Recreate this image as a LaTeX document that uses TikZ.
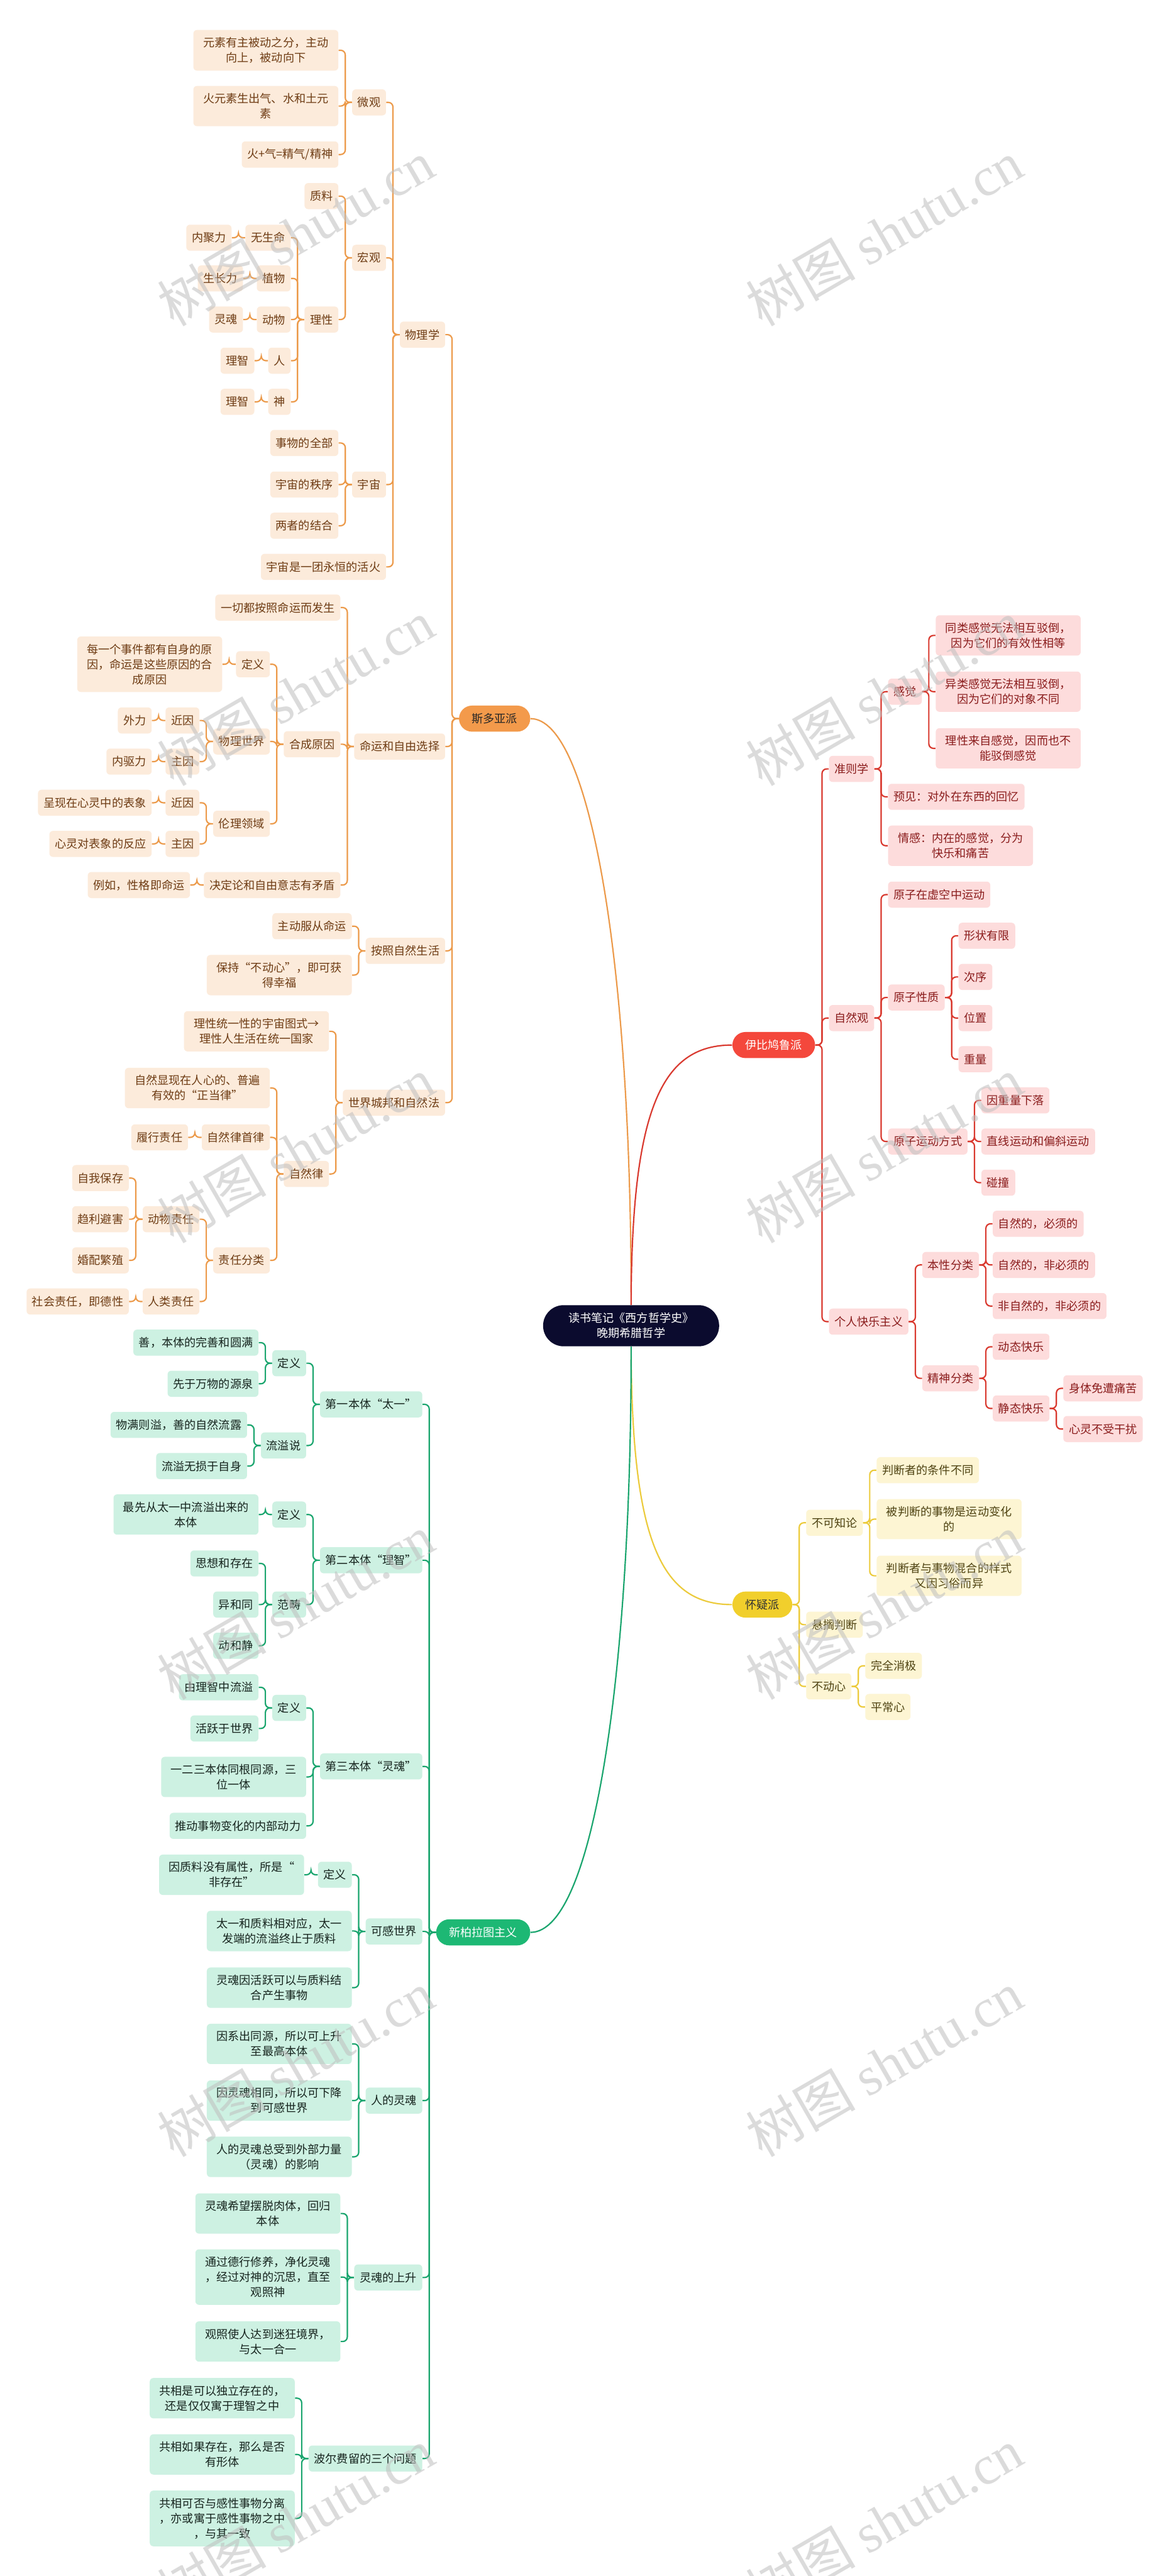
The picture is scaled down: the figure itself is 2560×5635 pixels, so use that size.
\documentclass[tikz,border=0pt]{standalone}
\usepackage{fontspec}
\newfontfamily\cjk{Noto Sans CJK SC}
\newfontfamily\wmserif{Liberation Serif}
\usetikzlibrary{calc}
\definecolor{soF}{HTML}{F39A4B}
\definecolor{soC}{HTML}{FCEBDB}
\definecolor{soT}{HTML}{6E3C14}
\definecolor{soL}{HTML}{EC9A4A}
\definecolor{epF}{HTML}{F4483C}
\definecolor{epC}{HTML}{FDDCDC}
\definecolor{epT}{HTML}{8A1C1C}
\definecolor{epL}{HTML}{D9392F}
\definecolor{skF}{HTML}{F1CF2C}
\definecolor{skC}{HTML}{FDF5D3}
\definecolor{skT}{HTML}{4E4312}
\definecolor{skL}{HTML}{ECCB3C}
\definecolor{npF}{HTML}{1DB874}
\definecolor{npC}{HTML}{CDF1E2}
\definecolor{npT}{HTML}{16241E}
\definecolor{npL}{HTML}{1AA56E}
\definecolor{titleF}{HTML}{0B0B2E}
% left child: [extra]{style}{name}{parent}{y}{text}
\newcommand\LN[6][]{\node[#2,#1,anchor=east] (#3) at ($(#4.west |- 0,#5)+(-29,0)$) {#6};
  \draw[#2line] (#4.west) -- ++(-14.5,0) |- (#3.east);}
\newcommand\RN[6][]{\node[#2,#1,anchor=west] (#3) at ($(#4.east |- 0,#5)+(29,0)$) {#6};
  \draw[#2line] (#4.east) -- ++(14.5,0) |- (#3.west);}
\begin{document}
\begin{tikzpicture}[x=0.01cm,y=-0.01cm,
  base/.style={font=\cjk\fontsize{7.1pt}{9.4pt}\selectfont, inner xsep=0.12cm, inner ysep=0.16cm, minimum height=0.57cm, rounded corners=0.08cm},
  wrap/.style={text width=2.93cm, align=center},
  so/.style={base, fill=soC, text=soT},
  ep/.style={base, fill=epC, text=epT},
  sk/.style={base, fill=skC, text=skT},
  np/.style={base, fill=npC, text=npT},
  soline/.style={draw=soL, line width=0.85pt, rounded corners=0.1cm},
  epline/.style={draw=epL, line width=0.85pt, rounded corners=0.1cm},
  skline/.style={draw=skL, line width=0.85pt, rounded corners=0.1cm},
  npline/.style={draw=npL, line width=0.85pt, rounded corners=0.1cm},
  branch/.style={font=\cjk\fontsize{7.1pt}{9.4pt}\selectfont, inner xsep=0.28cm, inner ysep=0.16cm, minimum height=0.57cm, rounded corners=0.285cm},
  wm/.style={text=gray!50, opacity=0.55, font=\cjk\fontsize{34pt}{34pt}\selectfont, rotate=30}
]
\useasboundingbox (0,0) rectangle (2560,5635);
\fill[white] (0,0) rectangle (2560,5635);

% root and branches
\node[font=\cjk\fontsize{7.1pt}{9.4pt}\selectfont, fill=titleF, text=white, align=center, rounded corners=0.45cm, minimum width=3.85cm, minimum height=0.9cm, inner ysep=0.16cm] (root) at (1381,2900) {读书笔记《西方哲学史》\\晚期希腊哲学};
\node[branch, fill=soF, text=black!85, anchor=east] (so) at (1161,1572) {斯多亚派};
\node[branch, fill=epF, text=white, anchor=west] (ep) at (1602,2286) {伊比鸠鲁派};
\node[branch, fill=skF, text=black!80, anchor=west] (sk) at (1602,3510) {怀疑派};
\node[branch, fill=npF, text=white, anchor=east] (np) at (1161,4227) {新柏拉图主义};
\draw[soline] (root.north) .. controls (1382,2100) and (1290,1572) .. (so.east);
\draw[epline] (root.north) .. controls (1382,2420) and (1450,2286) .. (ep.west);
\draw[skline] (root.south) .. controls (1382,3380) and (1450,3510) .. (sk.west);
\draw[npline] (root.south) .. controls (1382,3650) and (1300,4227) .. (np.east);

% ===== 斯多亚派 =====
\LN{so}{wl}{so}{732}{物理学}
\LN{so}{mf}{so}{1633}{命运和自由选择}
\LN{so}{az}{so}{2080}{按照自然生活}
\LN{so}{sj}{so}{2412}{世界城邦和自然法}
% 物理学
\LN{so}{wei}{wl}{224}{微观}
\LN{so}{hg}{wl}{564}{宏观}
\LN{so}{yz}{wl}{1060}{宇宙}
\LN{so}{hh}{wl}{1240}{宇宙是一团永恒的活火}
\LN[wrap]{so}{w1}{wei}{110}{元素有主被动之分，主动\\向上，被动向下}
\LN[wrap]{so}{w2}{wei}{232}{火元素生出气、水和土元\\素}
\LN{so}{w3}{wei}{338}{火+气=精气/精神}
\LN{so}{zl}{hg}{429}{质料}
\LN{so}{lx}{hg}{699}{理性}
\LN{so}{ws}{lx}{520}{无生命}
\LN{so}{zw}{lx}{609}{植物}
\LN{so}{dw}{lx}{699}{动物}
\LN{so}{ren}{lx}{789}{人}
\LN{so}{shen}{lx}{879}{神}
\LN{so}{njl}{ws}{520}{内聚力}
\LN{so}{szl}{zw}{609}{生长力}
\LN{so}{lh}{dw}{699}{灵魂}
\LN{so}{lza}{ren}{789}{理智}
\LN{so}{lzb}{shen}{879}{理智}
\LN{so}{yza}{yz}{969}{事物的全部}
\LN{so}{yzb}{yz}{1060}{宇宙的秩序}
\LN{so}{yzc}{yz}{1150}{两者的结合}
% 命运和自由选择
\LN{so}{ma}{mf}{1329}{一切都按照命运而发生}
\LN{so}{hc}{mf}{1628}{合成原因}
\LN{so}{jd}{mf}{1936}{决定论和自由意志有矛盾}
\LN{so}{dya}{hc}{1453}{定义}
\LN{so}{wj}{hc}{1622}{物理世界}
\LN{so}{ll}{hc}{1802}{伦理领域}
\LN[wrap]{so}{mg}{dya}{1453}{每一个事件都有自身的原\\因，命运是这些原因的合\\成原因}
\LN{so}{jya}{wj}{1576}{近因}
\LN{so}{zya}{wj}{1666}{主因}
\LN{so}{wla}{jya}{1576}{外力}
\LN{so}{nq}{zya}{1666}{内驱力}
\LN{so}{jyb}{ll}{1756}{近因}
\LN{so}{zyb}{ll}{1846}{主因}
\LN{so}{bxx}{jyb}{1756}{呈现在心灵中的表象}
\LN{so}{fy}{zyb}{1846}{心灵对表象的反应}
\LN{so}{lr}{jd}{1936}{例如，性格即命运}
% 按照自然生活
\LN{so}{zd}{az}{2026}{主动服从命运}
\LN[wrap]{so}{bc}{az}{2133}{保持“不动心”，即可获\\得幸福}
% 世界城邦和自然法
\LN[wrap]{so}{lt}{sj}{2256}{理性统一性的宇宙图式→\\理性人生活在统一国家}
\LN{so}{zrl}{sj}{2568}{自然律}
\LN[wrap]{so}{zx}{zrl}{2380}{自然显现在人心的、普遍\\有效的“正当律”}
\LN{so}{sl}{zrl}{2488}{自然律首律}
\LN{so}{zr}{zrl}{2757}{责任分类}
\LN{so}{lxzr}{sl}{2488}{履行责任}
\LN{so}{dwzr}{zr}{2667}{动物责任}
\LN{so}{rlzr}{zr}{2847}{人类责任}
\LN{so}{zwbc}{dwzr}{2577}{自我保存}
\LN{so}{ql}{dwzr}{2667}{趋利避害}
\LN{so}{hp}{dwzr}{2757}{婚配繁殖}
\LN{so}{shzr}{rlzr}{2847}{社会责任，即德性}

% ===== 伊比鸠鲁派 =====
\RN{ep}{zzx}{ep}{1682}{准则学}
\RN{ep}{zrg}{ep}{2227}{自然观}
\RN{ep}{grkl}{ep}{2891}{个人快乐主义}
\RN{ep}{gj}{zzx}{1513}{感觉}
\RN{ep}{yj}{zzx}{1743}{预见：对外在东西的回忆}
\RN[wrap]{ep}{qg}{zzx}{1850}{情感：内在的感觉，分为\\快乐和痛苦}
\RN[wrap]{ep}{ga}{gj}{1390}{同类感觉无法相互驳倒，\\因为它们的有效性相等}
\RN[wrap]{ep}{gb}{gj}{1513}{异类感觉无法相互驳倒，\\因为它们的对象不同}
\RN[wrap]{ep}{gc}{gj}{1637}{理性来自感觉，因而也不\\能驳倒感觉}
\RN{ep}{yzo}{zrg}{1957}{原子在虚空中运动}
\RN{ep}{yzxz}{zrg}{2182}{原子性质}
\RN{ep}{yzyd}{zrg}{2497}{原子运动方式}
\RN{ep}{xza}{yzxz}{2047}{形状有限}
\RN{ep}{xzb}{yzxz}{2137}{次序}
\RN{ep}{xzc}{yzxz}{2227}{位置}
\RN{ep}{xzd}{yzxz}{2317}{重量}
\RN{ep}{yda}{yzyd}{2407}{因重量下落}
\RN{ep}{ydb}{yzyd}{2497}{直线运动和偏斜运动}
\RN{ep}{ydc}{yzyd}{2587}{碰撞}
\RN{ep}{bxfl}{grkl}{2767}{本性分类}
\RN{ep}{jsfl}{grkl}{3015}{精神分类}
\RN{ep}{bxa}{bxfl}{2677}{自然的，必须的}
\RN{ep}{bxb}{bxfl}{2767}{自然的，非必须的}
\RN{ep}{bxc}{bxfl}{2857}{非自然的，非必须的}
\RN{ep}{dtkl}{jsfl}{2946}{动态快乐}
\RN{ep}{jtkl}{jsfl}{3081}{静态快乐}
\RN{ep}{jta}{jtkl}{3037}{身体免遭痛苦}
\RN{ep}{jtb}{jtkl}{3126}{心灵不受干扰}

% ===== 怀疑派 =====
\RN{sk}{bkz}{sk}{3331}{不可知论}
\RN{sk}{xg}{sk}{3554}{悬搁判断}
\RN{sk}{bdx}{sk}{3689}{不动心}
\RN{sk}{ka}{bkz}{3216}{判断者的条件不同}
\RN[wrap]{sk}{kb}{bkz}{3323}{被判断的事物是运动变化\\的}
\RN[wrap]{sk}{kc}{bkz}{3447}{判断者与事物混合的样式\\又因习俗而异}
\RN{sk}{qa}{bdx}{3644}{完全消极}
\RN{sk}{qb}{bdx}{3734}{平常心}

% ===== 新柏拉图主义 =====
\LN{np}{bta}{np}{3072}{第一本体“太一”}
\LN{np}{btb}{np}{3413}{第二本体“理智”}
\LN{np}{btc}{np}{3864}{第三本体“灵魂”}
\LN{np}{kg}{np}{4225}{可感世界}
\LN{np}{rlh}{np}{4595}{人的灵魂}
\LN{np}{lhss}{np}{4982}{灵魂的上升}
\LN{np}{bef}{np}{5378}{波尔费留的三个问题}
\LN{np}{dyx}{bta}{2982}{定义}
\LN{np}{lyx}{bta}{3162}{流溢说}
\LN{np}{aa}{dyx}{2937}{善，本体的完善和圆满}
\LN{np}{ab}{dyx}{3027}{先于万物的源泉}
\LN{np}{ac}{lyx}{3117}{物满则溢，善的自然流露}
\LN{np}{ad}{lyx}{3207}{流溢无损于自身}
\LN{np}{dyy}{btb}{3313}{定义}
\LN{np}{fc}{btb}{3510}{范畴}
\LN[wrap]{np}{ba}{dyy}{3313}{最先从太一中流溢出来的\\本体}
\LN{np}{bb}{fc}{3420}{思想和存在}
\LN{np}{bcc}{fc}{3510}{异和同}
\LN{np}{bd}{fc}{3600}{动和静}
\LN{np}{dyz}{btc}{3736}{定义}
\LN[wrap]{np}{cb}{btc}{3887}{一二三本体同根同源，三\\位一体}
\LN{np}{cc}{btc}{3994}{推动事物变化的内部动力}
\LN{np}{caa}{dyz}{3691}{由理智中流溢}
\LN{np}{cab}{dyz}{3781}{活跃于世界}
\LN{np}{dyw}{kg}{4101}{定义}
\LN[wrap]{np}{db}{kg}{4224}{太一和质料相对应，太一\\发端的流溢终止于质料}
\LN[wrap]{np}{dc}{kg}{4348}{灵魂因活跃可以与质料结\\合产生事物}
\LN[wrap]{np}{daa}{dyw}{4101}{因质料没有属性，所是“\\非存在”}
\LN[wrap]{np}{ea}{rlh}{4471}{因系出同源，所以可上升\\至最高本体}
\LN[wrap]{np}{eb}{rlh}{4595}{因灵魂相同，所以可下降\\到可感世界}
\LN[wrap]{np}{ec}{rlh}{4718}{人的灵魂总受到外部力量\\（灵魂）的影响}
\LN[wrap]{np}{fa}{lhss}{4842}{灵魂希望摆脱肉体，回归\\本体}
\LN[wrap]{np}{fb}{lhss}{4981}{通过德行修养，净化灵魂\\，经过对神的沉思，直至\\观照神}
\LN[wrap]{np}{fcc}{lhss}{5122}{观照使人达到迷狂境界，\\与太一合一}
\LN[wrap]{np}{ga}{bef}{5246}{共相是可以独立存在的，\\还是仅仅寓于理智之中}
\LN[wrap]{np}{gb}{bef}{5369}{共相如果存在，那么是否\\有形体}
\LN[wrap]{np}{gc}{bef}{5509}{共相可否与感性事物分离\\，亦或寓于感性事物之中\\，与其一致}

% watermarks
\foreach \wy [count=\i] in {510,1515,2515,3515,4515,5515}{
  \node[wm] (wml\i) at (647,\wy) {树图 {\wmserif shutu.cn}};
  \node[wm] (wmr\i) at (1935,\wy) {树图 {\wmserif shutu.cn}};
}
\end{tikzpicture}
\end{document}
